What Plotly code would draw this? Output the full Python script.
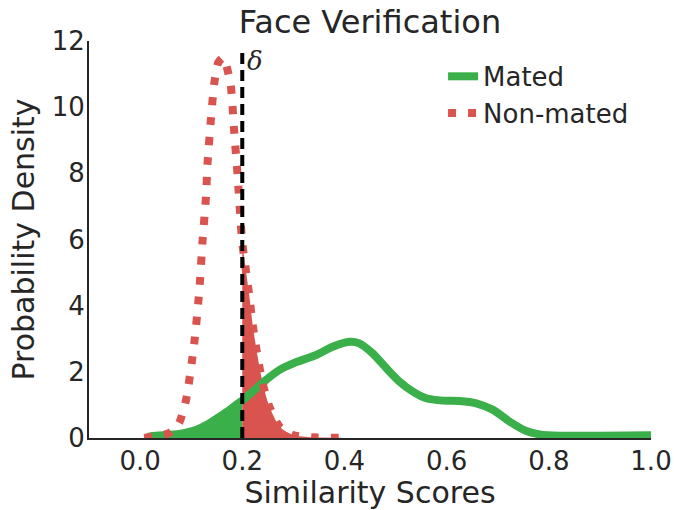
import plotly.graph_objects as go

# ---- data ----
delta = 0.2

mated_x = [0.015, 0.024, 0.076, 0.109, 0.135, 0.155, 0.175, 0.194, 0.200, 0.220, 0.246,
           0.273, 0.305, 0.345, 0.377, 0.410, 0.429, 0.455, 0.482, 0.508, 0.534,
           0.560, 0.593, 0.625, 0.658, 0.691, 0.724, 0.756, 0.782, 0.822, 0.900, 1.000]
mated_y = [0.03, 0.06, 0.12, 0.24, 0.44, 0.64, 0.85, 1.07, 1.13, 1.40, 1.75,
           2.06, 2.29, 2.51, 2.76, 2.91, 2.86, 2.56, 2.11, 1.70, 1.40,
           1.20, 1.13, 1.12, 1.05, 0.85, 0.49, 0.21, 0.11, 0.07, 0.07, 0.08]

nonmated_x = [0.008, 0.057, 0.076, 0.090, 0.106, 0.116, 0.122, 0.129, 0.132, 0.139,
              0.145, 0.153, 0.163, 0.177, 0.184, 0.191, 0.197, 0.200, 0.207, 0.214,
              0.220, 0.230, 0.240, 0.253, 0.273, 0.299, 0.337, 0.395]
nonmated_y = [0.00, 0.15, 0.44, 1.15, 2.87, 4.47, 5.90, 7.30, 8.30, 9.70,
              10.70, 11.35, 11.50, 10.70, 9.30, 7.90, 6.50, 5.90, 5.08, 4.27,
              3.47, 2.46, 1.65, 0.95, 0.34, 0.09, 0.02, 0.01]

x_ticks = [0.0, 0.2, 0.4, 0.6, 0.8, 1.0]
x_tick_labels = ["0.0", "0.2", "0.4", "0.6", "0.8", "1.0"]
y_ticks = [0, 2, 4, 6, 8, 10, 12]
y_tick_labels = ["0", "2", "4", "6", "8", "10", "12"]

GREEN = "#3bb04a"
RED = "#d9544e"
TXT = "#262626"
FONT = "DejaVu Sans"

# fill subsets
g_fx = [x for x in mated_x if x <= delta]
g_fy = [y for x, y in zip(mated_x, mated_y) if x <= delta]
r_fx = [x for x in nonmated_x if x >= delta]
r_fy = [y for x, y in zip(nonmated_x, nonmated_y) if x >= delta]

fig = go.Figure()
fig.add_trace(go.Scatter(x=g_fx, y=g_fy, mode="lines", fill="tozeroy",
                         fillcolor=GREEN, line=dict(width=0, shape="spline", smoothing=0.6),
                         showlegend=False, hoverinfo="skip"))
fig.add_trace(go.Scatter(x=r_fx, y=r_fy, mode="lines", fill="tozeroy",
                         fillcolor=RED, line=dict(width=0, shape="spline", smoothing=0.6),
                         showlegend=False, hoverinfo="skip"))
fig.add_trace(go.Scatter(x=mated_x, y=mated_y, mode="lines", name="Mated",
                         line=dict(color=GREEN, width=8, shape="spline", smoothing=0.6)))
fig.add_trace(go.Scatter(x=nonmated_x, y=nonmated_y, mode="lines", name="Non-mated",
                         line=dict(color=RED, width=8, dash="8px,12px",
                                   shape="spline", smoothing=0.6)))
fig.add_trace(go.Scatter(x=[delta, delta], y=[0, 11.8], mode="lines",
                         line=dict(color="black", width=4, dash="11px,6px"),
                         showlegend=False, hoverinfo="skip"))

fig.add_annotation(x=delta, y=11.4, text="<i>δ</i>", showarrow=False,
                   xanchor="left", xshift=3, yanchor="middle",
                   font=dict(family="DejaVu Serif", size=26, color=TXT))

fig.update_layout(
    width=674, height=510,
    margin=dict(l=89, r=23, t=41, b=72, autoexpand=False),
    paper_bgcolor="white", plot_bgcolor="white",
    font=dict(family=FONT, color=TXT),
    title=dict(text="Face Verification", x=0.5, xref="paper", xanchor="center",
               y=1 - 22 / 510, yref="container", yanchor="middle",
               font=dict(size=32, color=TXT, family=FONT)),
    legend=dict(x=0.63, y=0.97, xanchor="left", yanchor="top",
                bgcolor="rgba(0,0,0,0)", font=dict(size=26, color=TXT, family=FONT)),
    showlegend=True,
)
fig.update_xaxes(range=[-0.1, 1.0], tickvals=x_ticks, ticktext=x_tick_labels,
                 showgrid=False, zeroline=False, showline=True, linecolor=TXT, linewidth=2,
                 ticks="", tickfont=dict(size=26, color=TXT), ticklabelstandoff=-1,
                 title=dict(text="Similarity Scores", font=dict(size=30, color=TXT), standoff=6))
fig.update_yaxes(range=[0, 12], tickvals=y_ticks, ticktext=y_tick_labels,
                 showgrid=False, zeroline=False, showline=True, linecolor=TXT, linewidth=2,
                 ticks="", tickfont=dict(size=26, color=TXT), ticklabelstandoff=-3,
                 title=dict(text="Probability Density", font=dict(size=30, color=TXT), standoff=8))

fig.write_html("out.html", config={"displayModeBar": False},
               post_script="document.body.style.margin='0';")
